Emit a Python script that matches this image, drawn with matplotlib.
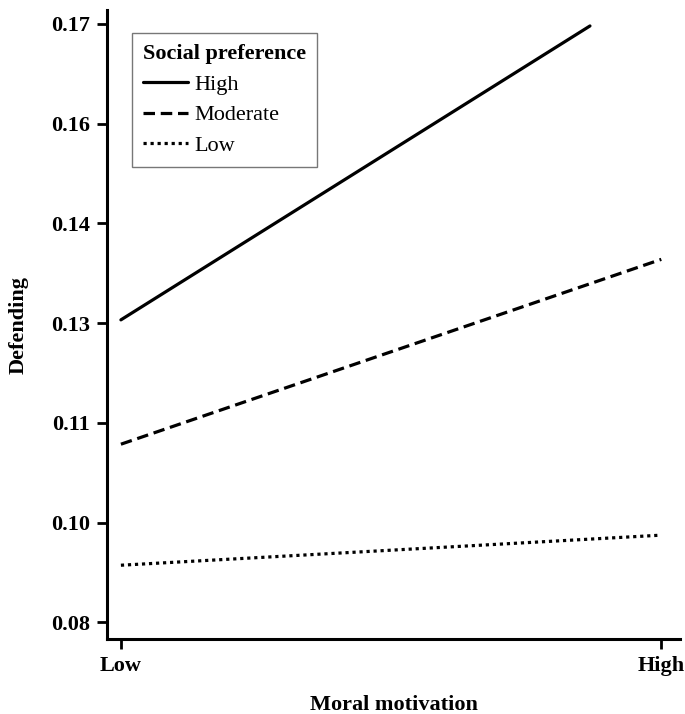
import matplotlib
matplotlib.use('Agg')
import matplotlib.pyplot as plt

# values
x_labels = ['Low', 'High']
y_ticks = [0.08, 0.095, 0.11, 0.125, 0.14, 0.155, 0.17]
y_tick_labels = ['0.08', '0.10', '0.11', '0.13', '0.14', '0.16', '0.17']

series_names = ['High', 'Moderate', 'Low']
high_x = [0, 0.868]
high_y = [0.1255, 0.1697]
moderate_x = [0, 1]
moderate_y = [0.1068, 0.1346]
low_x = [0, 0.995]
low_y = [0.0886, 0.0931]

plt.rcParams['font.family'] = ['Liberation Serif', 'DejaVu Serif']
fs = 16

fig = plt.figure( figsize=(6.85, 7.14), dpi=100 )
ax = fig.add_axes( [0.156, 0.105, 0.837, 0.881] )

ax.plot( high_x, high_y, color='black', lw=2.3, ls='-', label=series_names[0],
         solid_capstyle='round' )
ax.plot( moderate_x, moderate_y, color='black', lw=2.3, ls=(0, (3.6, 1.8)),
         label=series_names[1] )
ax.plot( low_x, low_y, color='black', lw=2.3, ls=(0, (1, 1.2)),
         label=series_names[2] )

ax.set_xlim( -0.026, 1.035 )
ax.set_ylim( 0.0775, 0.1721 )

ax.set_xticks( [0, 1] )
ax.set_xticklabels( x_labels, fontweight='bold', fontsize=fs )
ax.set_yticks( y_ticks )
ax.set_yticklabels( y_tick_labels, fontweight='bold', fontsize=fs )

for s in ['top', 'right']:
    ax.spines[s].set_visible( False )
for s in ['left', 'bottom']:
    ax.spines[s].set_linewidth( 2.2 )
ax.tick_params( direction='out', length=7, width=2, pad=5 )

ax.set_xlabel( 'Moral motivation', fontweight='bold', fontsize=fs, labelpad=14 )
ax.set_ylabel( 'Defending', fontweight='bold', fontsize=fs, labelpad=16 )

leg = ax.legend( loc='upper left', bbox_to_anchor=(0.044, 0.963),
                 title='Social preference', fontsize=fs,
                 title_fontproperties={'weight': 'bold', 'size': fs},
                 fancybox=False, edgecolor='#777777', framealpha=1,
                 handlelength=2.0, handletextpad=0.3, labelspacing=0.45,
                 borderpad=0.5, borderaxespad=0 )
leg.get_frame().set_linewidth( 1.0 )
leg._legend_box.align = 'left'

plt.savefig( 'out.png', dpi=100 )
plt.close( 'all' )
